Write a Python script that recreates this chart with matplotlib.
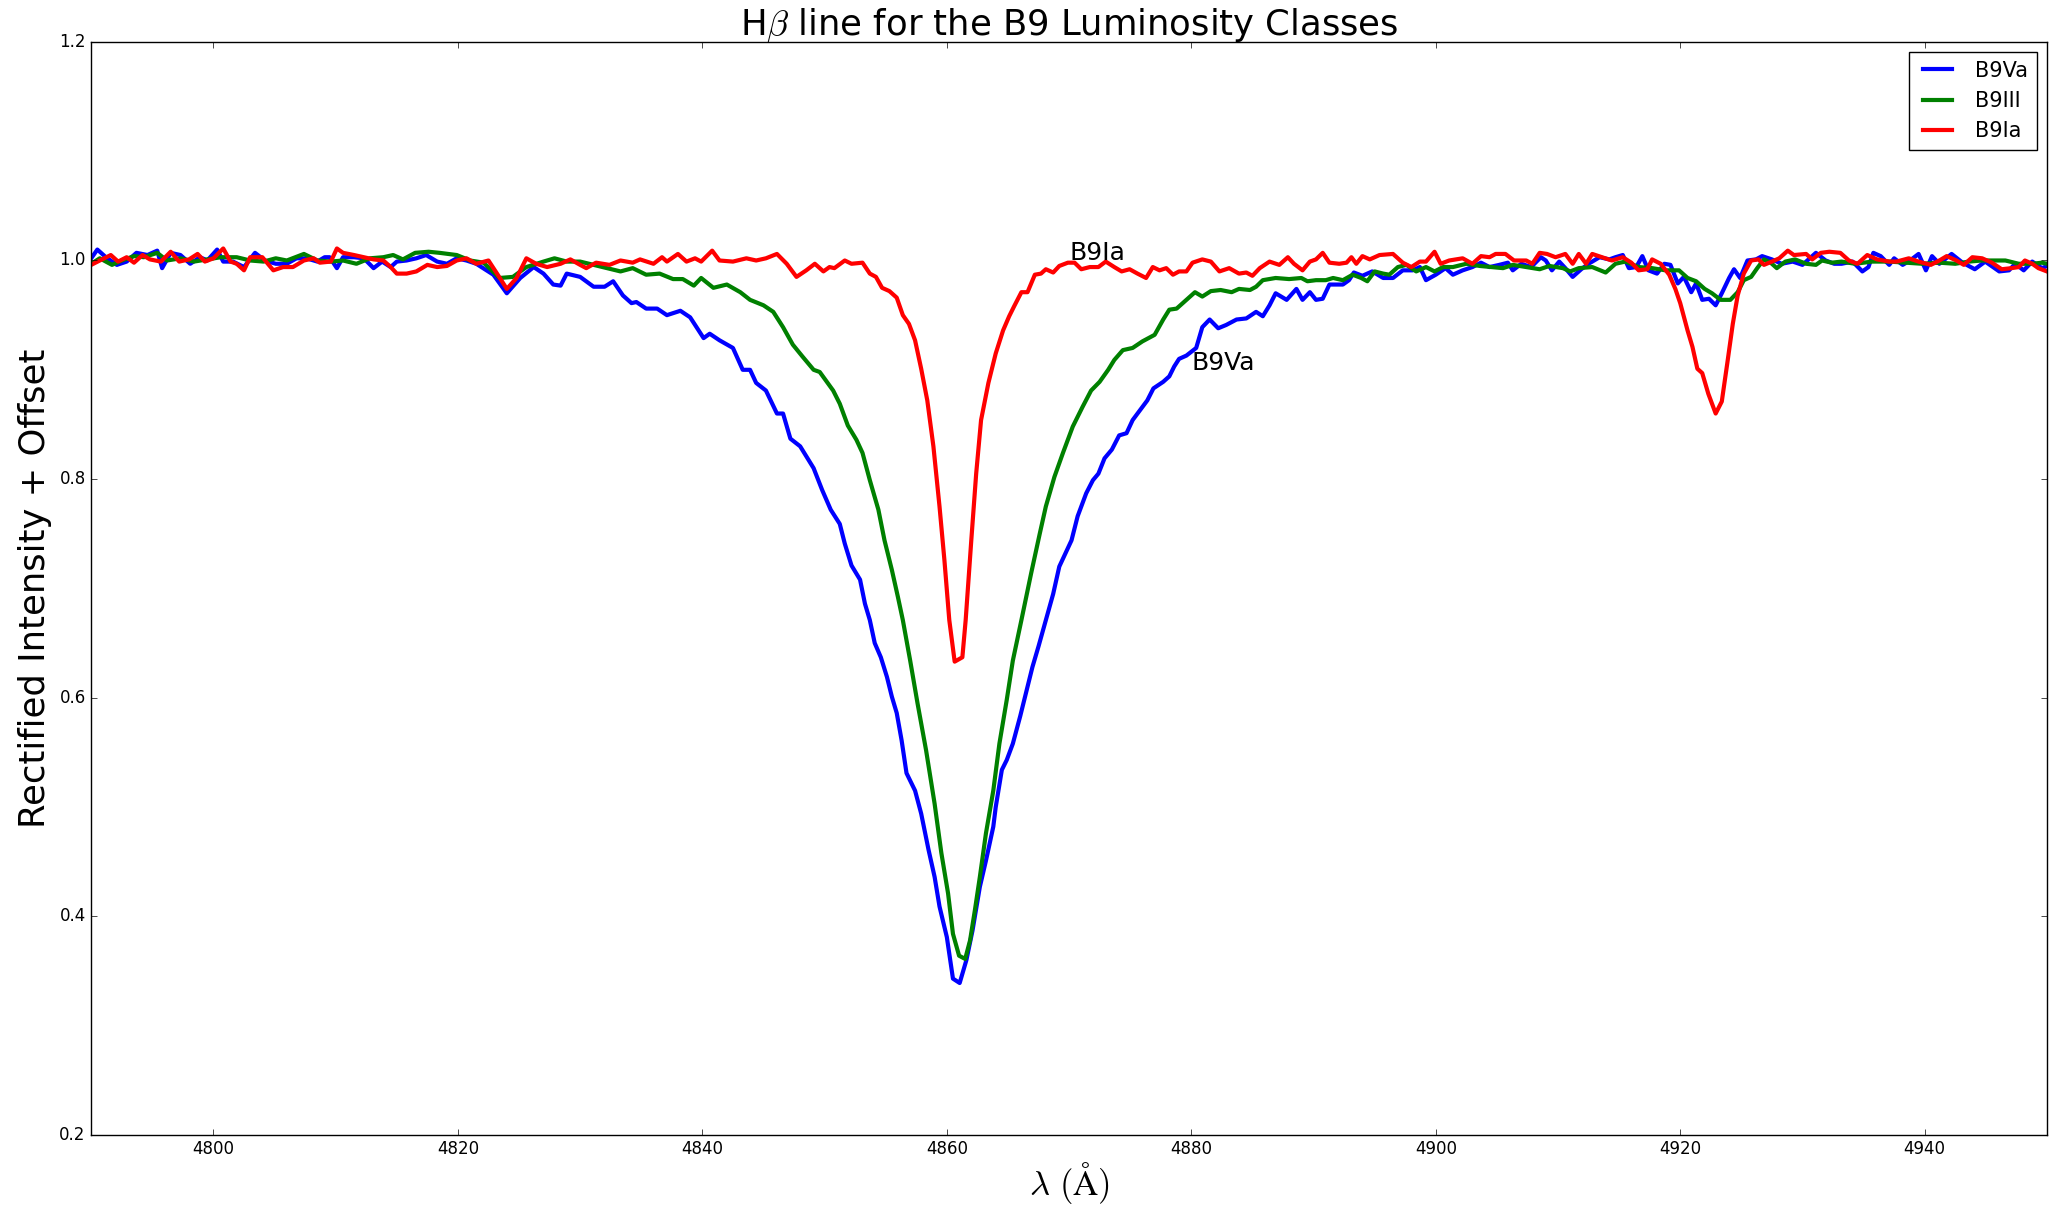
import matplotlib
matplotlib.use("Agg")
import matplotlib.pyplot as plt

# ---------------- data ----------------
wl_va = [4790.0, 4790.5, 4791.2, 4792.1, 4792.9, 4793.7, 4794.6, 4795.4, 4795.8, 4796.5, 4797.3, 4798.1,
         4798.9, 4799.5, 4800.3, 4800.8, 4801.6, 4802.5, 4803.4, 4804.2, 4805.1, 4806.0, 4806.8, 4807.6,
         4808.5, 4809.1, 4809.5, 4810.1, 4810.6, 4811.5, 4812.3, 4813.1, 4813.8, 4814.5, 4815.0, 4815.8,
         4816.6, 4817.4, 4818.3, 4819.1, 4819.9, 4820.7, 4821.5, 4822.2, 4822.9, 4824.0, 4825.1, 4826.2,
         4827.0, 4827.8, 4828.4, 4828.9, 4830.0, 4831.1, 4832.0, 4832.7, 4833.5, 4834.2, 4834.6, 4835.4,
         4836.3, 4837.1, 4838.2, 4839.0, 4840.1, 4840.6, 4841.4, 4842.5, 4843.3, 4843.9, 4844.4, 4845.2,
         4846.1, 4846.6, 4847.2, 4848.0, 4849.1, 4849.8, 4850.5, 4851.24, 4851.65, 4852.2, 4852.9, 4853.3,
         4853.7, 4854.1, 4854.6, 4855.1, 4855.5, 4855.9, 4856.3, 4856.7, 4857.4, 4857.9, 4858.5, 4859.0,
         4859.4, 4860.0, 4860.5, 4861.05, 4861.6, 4862.1, 4862.7, 4863.2, 4863.8, 4864.0, 4864.5, 4864.9,
         4865.4, 4866.0, 4866.4, 4867.0, 4867.5, 4868.1, 4868.7, 4869.2, 4870.2, 4870.7, 4871.4, 4871.95,
         4872.4, 4872.9, 4873.5, 4874.1, 4874.7, 4875.2, 4875.8, 4876.4, 4876.9, 4877.7, 4878.2, 4878.6,
         4879.0, 4879.6, 4880.4, 4880.9, 4881.5, 4882.2, 4882.85, 4883.7, 4884.5, 4885.3, 4885.85, 4886.4,
         4886.9, 4887.8, 4888.6, 4889.1, 4889.7, 4890.2, 4890.75, 4891.3, 4892.4, 4892.9, 4893.3, 4894.0,
         4894.8, 4895.7, 4896.5, 4897.3, 4898.1, 4898.7, 4899.2, 4900.0, 4900.8, 4901.4, 4902.2, 4903.0,
         4903.7, 4904.4, 4905.2, 4905.9, 4906.3, 4907.0, 4907.8, 4908.6, 4909.0, 4909.5, 4910.1, 4910.6,
         4911.2, 4911.9, 4912.5, 4913.4, 4914.2, 4914.7, 4915.3, 4915.8, 4916.4, 4916.9, 4917.4, 4918.1,
         4918.7, 4919.2, 4919.8, 4920.3, 4920.9, 4921.3, 4921.8, 4922.35, 4922.9, 4923.4, 4924.0, 4924.4,
         4924.9, 4925.5, 4926.2, 4926.7, 4927.5, 4928.3, 4929.2, 4930.0, 4930.5, 4931.1, 4931.9, 4932.6,
         4933.2, 4934.1, 4934.9, 4935.4, 4935.8, 4936.4, 4937.1, 4937.5, 4938.2, 4938.8, 4939.5, 4940.1,
         4940.6, 4941.2, 4942.2, 4943.1, 4944.1, 4944.95, 4946.1, 4946.9, 4947.4, 4948.1, 4948.8, 4949.6,
         4950.0]
fl_va = [1.002, 1.010, 1.003, 0.996, 0.999, 1.007, 1.005, 1.009, 0.993, 1.007, 1.005, 0.997,
         1.003, 1.000, 1.010, 0.999, 0.999, 0.994, 1.007, 1.000, 0.997, 0.997, 1.002, 1.002,
         0.999, 1.003, 1.003, 0.993, 1.003, 1.003, 1.002, 0.993, 0.999, 0.994, 0.999, 1.000,
         1.002, 1.005, 0.999, 0.997, 1.002, 1.000, 0.997, 0.992, 0.987, 0.970, 0.984, 0.994,
         0.988, 0.978, 0.977, 0.988, 0.985, 0.976, 0.976, 0.981, 0.968, 0.961, 0.962, 0.956,
         0.956, 0.950, 0.954, 0.948, 0.929, 0.933, 0.927, 0.920, 0.900, 0.900, 0.888, 0.881,
         0.860, 0.860, 0.837, 0.830, 0.810, 0.790, 0.772, 0.759, 0.741, 0.721, 0.708, 0.686,
         0.671, 0.650, 0.637, 0.619, 0.601, 0.586, 0.561, 0.531, 0.515, 0.494, 0.461, 0.436,
         0.409, 0.381, 0.343, 0.339, 0.360, 0.387, 0.427, 0.451, 0.482, 0.500, 0.534, 0.543,
         0.558, 0.583, 0.601, 0.628, 0.647, 0.671, 0.695, 0.720, 0.744, 0.766, 0.787, 0.799,
         0.805, 0.819, 0.827, 0.840, 0.842, 0.854, 0.863, 0.872, 0.883, 0.889, 0.894, 0.903,
         0.910, 0.913, 0.920, 0.939, 0.946, 0.938, 0.941, 0.946, 0.947, 0.953, 0.949, 0.959,
         0.970, 0.964, 0.974, 0.964, 0.971, 0.964, 0.965, 0.978, 0.978, 0.982, 0.989, 0.986,
         0.990, 0.984, 0.984, 0.991, 0.991, 0.994, 0.982, 0.987, 0.993, 0.987, 0.991, 0.994,
         0.998, 0.994, 0.996, 0.998, 0.991, 0.997, 0.994, 1.003, 1.000, 0.991, 0.999, 0.993,
         0.985, 0.992, 0.997, 1.003, 1.001, 1.003, 1.005, 0.993, 0.994, 1.004, 0.991, 0.988,
         0.997, 0.996, 0.979, 0.985, 0.971, 0.979, 0.964, 0.965, 0.959, 0.970, 0.984, 0.992,
         0.984, 1.000, 1.001, 1.004, 1.001, 0.997, 0.999, 0.996, 1.001, 1.007, 1.000, 0.997,
         0.997, 0.999, 0.990, 0.994, 1.007, 1.004, 0.996, 1.002, 0.996, 1.000, 1.006, 0.991,
         1.004, 0.997, 1.006, 0.998, 0.992, 0.999, 0.990, 0.991, 0.997, 0.991, 0.999, 0.993,
         0.995]

wl_iii = [4790.0, 4790.7, 4791.7, 4792.5, 4793.5, 4794.3, 4795.4, 4796.2, 4797.3, 4798.4, 4799.5, 4800.6,
          4801.9, 4803.0, 4804.1, 4805.1, 4806.0, 4807.4, 4808.5, 4809.6, 4810.6, 4811.7, 4812.8, 4813.9,
          4814.7, 4815.5, 4816.5, 4817.6, 4818.5, 4819.9, 4821.0, 4822.1, 4823.4, 4824.5, 4825.6, 4827.0,
          4827.9, 4828.9, 4830.0, 4831.1, 4832.2, 4833.3, 4834.3, 4835.4, 4836.5, 4837.6, 4838.4, 4839.3,
          4839.9, 4840.9, 4842.0, 4843.1, 4843.9, 4845.0, 4845.8, 4846.6, 4847.4, 4848.2, 4849.1, 4849.6,
          4850.7, 4851.24, 4851.9, 4852.6, 4853.1, 4853.7, 4854.4, 4854.9, 4855.5, 4856.0, 4856.4, 4857.0,
          4857.6, 4858.3, 4859.0, 4859.55, 4860.1, 4860.5, 4861.0, 4861.5, 4861.9, 4862.3, 4862.7, 4863.2,
          4863.8, 4864.3, 4864.9, 4865.4, 4866.1, 4866.9, 4867.6, 4868.1, 4868.8, 4869.5, 4870.3, 4871.1,
          4871.8, 4872.5, 4873.2, 4873.7, 4874.4, 4875.2, 4876.0, 4877.0, 4877.7, 4878.2, 4878.8, 4879.6,
          4880.3, 4880.9, 4881.6, 4882.4, 4883.3, 4883.9, 4884.8, 4885.3, 4885.85, 4886.9, 4888.0, 4889.0,
          4889.5, 4890.2, 4891.0, 4891.6, 4892.4, 4893.2, 4893.9, 4894.4, 4895.0, 4895.7, 4896.2, 4896.9,
          4897.6, 4898.4, 4899.2, 4899.9, 4900.6, 4901.4, 4902.5, 4903.6, 4904.6, 4905.5, 4906.3, 4907.4,
          4908.5, 4909.3, 4910.4, 4911.0, 4911.7, 4912.8, 4913.9, 4914.7, 4915.5, 4916.6, 4917.7, 4918.8,
          4919.9, 4920.6, 4921.3, 4922.0, 4922.6, 4923.3, 4924.1, 4924.7, 4925.2, 4925.8, 4926.3, 4926.85,
          4927.4, 4927.9, 4928.6, 4929.4, 4930.3, 4931.1, 4931.6, 4932.4, 4933.2, 4934.3, 4935.7, 4937.1,
          4938.4, 4939.8, 4941.2, 4942.5, 4943.6, 4944.7, 4945.5, 4946.6, 4947.7, 4948.8, 4949.6, 4950.0]
fl_iii = [0.997, 1.002, 0.996, 1.000, 1.004, 1.003, 1.007, 1.000, 1.002, 0.999, 1.001, 1.003,
          1.003, 1.000, 0.999, 1.002, 1.000, 1.006, 1.000, 0.999, 1.000, 0.997, 1.002, 1.003,
          1.005, 1.001, 1.007, 1.008, 1.007, 1.005, 1.000, 0.998, 0.984, 0.985, 0.994, 0.999,
          1.002, 0.999, 0.999, 0.996, 0.993, 0.990, 0.993, 0.987, 0.988, 0.983, 0.983, 0.977,
          0.984, 0.975, 0.978, 0.971, 0.964, 0.959, 0.953, 0.939, 0.923, 0.912, 0.900, 0.898,
          0.881, 0.869, 0.849, 0.836, 0.824, 0.799, 0.772, 0.744, 0.717, 0.692, 0.671, 0.634,
          0.595, 0.552, 0.503, 0.458, 0.421, 0.384, 0.364, 0.361, 0.378, 0.406, 0.436, 0.476,
          0.515, 0.558, 0.598, 0.634, 0.671, 0.714, 0.750, 0.775, 0.802, 0.824, 0.848, 0.866,
          0.881, 0.889, 0.900, 0.909, 0.918, 0.920, 0.926, 0.932, 0.946, 0.955, 0.956, 0.964,
          0.971, 0.967, 0.972, 0.973, 0.971, 0.974, 0.973, 0.976, 0.982, 0.984, 0.983, 0.984,
          0.981, 0.982, 0.982, 0.984, 0.982, 0.987, 0.984, 0.981, 0.990, 0.988, 0.987, 0.994,
          0.996, 0.990, 0.994, 0.990, 0.994, 0.994, 0.997, 0.995, 0.994, 0.993, 0.996, 0.994,
          0.992, 0.995, 0.993, 0.990, 0.993, 0.994, 0.989, 0.997, 0.999, 0.994, 0.993, 0.991,
          0.991, 0.984, 0.981, 0.974, 0.970, 0.964, 0.964, 0.971, 0.982, 0.985, 0.993, 1.001,
          0.998, 0.993, 0.999, 1.001, 0.997, 0.996, 1.000, 0.998, 0.999, 0.997, 0.999, 0.999,
          0.998, 0.997, 0.998, 0.997, 0.999, 1.000, 1.000, 1.000, 0.997, 0.997, 0.998, 0.997]

wl_ia = [4790.0, 4790.7, 4791.6, 4792.2, 4792.9, 4793.5, 4794.2, 4794.8, 4795.7, 4796.5, 4797.2, 4798.0,
         4798.7, 4799.3, 4800.0, 4800.8, 4801.4, 4801.9, 4802.5, 4803.0, 4804.0, 4804.9, 4805.7, 4806.5,
         4807.4, 4808.2, 4808.7, 4809.6, 4810.1, 4810.6, 4811.5, 4812.3, 4813.1, 4813.9, 4814.5, 4815.0,
         4815.8, 4816.6, 4817.5, 4818.3, 4819.1, 4819.9, 4820.7, 4821.5, 4822.5, 4823.2, 4824.0, 4824.8,
         4825.6, 4826.4, 4827.3, 4828.4, 4829.2, 4830.0, 4830.5, 4831.3, 4832.4, 4833.3, 4834.3, 4834.9,
         4836.0, 4836.7, 4837.1, 4838.0, 4838.7, 4839.4, 4839.9, 4840.8, 4841.4, 4842.5, 4843.6, 4844.4,
         4845.2, 4846.1, 4846.9, 4847.7, 4848.5, 4849.2, 4849.9, 4850.4, 4850.8, 4851.65, 4852.2, 4853.1,
         4853.7, 4854.2, 4854.7, 4855.3, 4855.9, 4856.4, 4856.9, 4857.4, 4857.9, 4858.4, 4858.9, 4859.4,
         4859.8, 4860.2, 4860.64, 4861.27, 4861.54, 4862.0, 4862.4, 4862.8, 4863.4, 4864.0, 4864.6, 4865.1,
         4865.5, 4866.1, 4866.6, 4867.2, 4867.7, 4868.1, 4868.7, 4869.2, 4869.9, 4870.45, 4871.0, 4871.7,
         4872.4, 4873.0, 4873.7, 4874.3, 4874.95, 4875.6, 4876.3, 4876.85, 4877.4, 4877.95, 4878.5, 4879.0,
         4879.6, 4880.1, 4880.9, 4881.6, 4882.3, 4883.1, 4883.9, 4884.5, 4885.0, 4885.6, 4886.4, 4887.2,
         4887.9, 4888.4, 4889.1, 4889.7, 4890.2, 4890.75, 4891.3, 4892.1, 4892.7, 4893.1, 4893.5, 4894.0,
         4894.6, 4895.4, 4896.5, 4897.3, 4898.0, 4898.7, 4899.2, 4899.9, 4900.4, 4901.1, 4902.2, 4903.0,
         4903.7, 4904.4, 4904.9, 4905.7, 4906.4, 4907.4, 4907.9, 4908.5, 4909.1, 4909.8, 4910.6, 4911.2,
         4911.7, 4912.3, 4912.8, 4913.6, 4914.4, 4915.3, 4916.0, 4916.6, 4917.3, 4917.7, 4918.4, 4919.1,
         4919.6, 4920.0, 4920.6, 4921.0, 4921.4, 4921.8, 4922.3, 4922.9, 4923.4, 4923.85, 4924.3, 4924.7,
         4925.2, 4925.8, 4926.4, 4926.85, 4927.5, 4928.1, 4928.8, 4929.3, 4930.3, 4930.8, 4931.5, 4932.2,
         4933.1, 4933.8, 4934.5, 4935.3, 4936.1, 4937.1, 4937.7, 4938.7, 4939.5, 4940.5, 4941.2, 4941.8,
         4942.6, 4943.2, 4943.9, 4944.7, 4945.5, 4946.3, 4947.1, 4947.7, 4948.2, 4948.8, 4949.3, 4950.0]
fl_ia = [0.996, 1.000, 1.005, 0.999, 1.003, 0.998, 1.005, 1.001, 0.999, 1.008, 0.999, 1.001,
         1.006, 0.999, 1.002, 1.011, 0.999, 0.997, 0.991, 1.003, 1.003, 0.991, 0.994, 0.994,
         1.000, 1.002, 0.998, 0.999, 1.011, 1.007, 1.005, 1.003, 1.001, 1.000, 0.994, 0.988,
         0.988, 0.990, 0.996, 0.994, 0.995, 1.000, 1.002, 0.997, 1.000, 0.988, 0.974, 0.984,
         1.002, 0.997, 0.994, 0.997, 1.001, 0.996, 0.993, 0.998, 0.996, 1.000, 0.998, 1.001,
         0.997, 1.003, 0.999, 1.006, 0.999, 1.002, 0.999, 1.009, 1.000, 0.999, 1.002, 1.000,
         1.002, 1.006, 0.997, 0.985, 0.991, 0.997, 0.990, 0.994, 0.993, 1.000, 0.997, 0.998,
         0.988, 0.985, 0.975, 0.972, 0.966, 0.950, 0.942, 0.927, 0.901, 0.872, 0.830, 0.775,
         0.726, 0.671, 0.633, 0.637, 0.671, 0.744, 0.805, 0.854, 0.888, 0.915, 0.936, 0.949,
         0.958, 0.971, 0.971, 0.987, 0.988, 0.992, 0.989, 0.995, 0.998, 0.998, 0.992, 0.994,
         0.994, 0.999, 0.994, 0.990, 0.992, 0.988, 0.984, 0.994, 0.991, 0.993, 0.987, 0.990,
         0.990, 0.998, 1.001, 0.999, 0.990, 0.993, 0.988, 0.989, 0.986, 0.993, 0.999, 0.996,
         1.003, 0.997, 0.991, 0.999, 1.001, 1.007, 0.998, 0.997, 0.998, 1.003, 0.997, 1.004,
         1.001, 1.005, 1.006, 0.998, 0.994, 0.999, 0.999, 1.008, 0.997, 1.000, 1.002, 0.997,
         1.004, 1.003, 1.006, 1.006, 1.000, 1.000, 0.997, 1.007, 1.006, 1.003, 1.006, 0.997,
         1.006, 0.997, 1.006, 1.003, 1.000, 1.003, 0.998, 0.991, 0.992, 1.001, 0.997, 0.987,
         0.974, 0.961, 0.936, 0.921, 0.901, 0.897, 0.878, 0.860, 0.871, 0.906, 0.942, 0.968,
         0.988, 1.000, 1.001, 0.996, 0.999, 1.002, 1.009, 1.005, 1.006, 1.001, 1.007, 1.008,
         1.007, 1.000, 0.997, 1.005, 1.001, 0.999, 0.999, 1.002, 0.999, 0.996, 1.000, 1.004,
         1.000, 0.996, 1.003, 1.002, 0.998, 0.992, 0.993, 0.994, 1.000, 0.997, 0.993, 0.990]

series_labels = ["B9Va", "B9III", "B9Ia"]
title_text = r"H$\beta$ line for the B9 Luminosity Classes"
x_label = r"$\lambda\ (\mathrm{\AA})$"
y_label = "Rectified Intensity + Offset"
x_ticks = [4800, 4820, 4840, 4860, 4880, 4900, 4920, 4940]
y_ticks = [0.2, 0.4, 0.6, 0.8, 1.0, 1.2]

# ---------------- figure ----------------
plt.style.use("classic")
plt.rcParams["figure.facecolor"] = "white"
plt.rcParams["savefig.facecolor"] = "white"
plt.rcParams["font.family"] = ["DejaVu Sans"]
plt.rcParams["mathtext.fontset"] = "cm"

fig = plt.figure(figsize=(20.5, 12.07), dpi=100)
ax = fig.add_axes([0.0445, 0.0597, 0.9540, 0.9056])

ax.plot(wl_va, fl_va, color="b", lw=3, label=series_labels[0])
ax.plot(wl_iii, fl_iii, color="g", lw=3, label=series_labels[1])
ax.plot(wl_ia, fl_ia, color="r", lw=3, label=series_labels[2])

ax.set_xlim(4790, 4950)
ax.set_ylim(0.2, 1.2)
ax.set_xticks(x_ticks)
ax.set_yticks(y_ticks)
ax.ticklabel_format(useOffset=False)
ax.tick_params(labelsize=12)

ax.set_title(title_text, fontsize=25.5)
ax.set_xlabel(x_label, fontsize=25, labelpad=1)
ax.set_ylabel(y_label, fontsize=25.5)

ax.text(4870, 1.0, "B9Ia", fontsize=18)
ax.text(4880, 0.9, "B9Va", fontsize=18)

leg = ax.legend(loc="upper right", fontsize=15, handlelength=2.0, numpoints=2)

fig.savefig("out.png", dpi=100)
